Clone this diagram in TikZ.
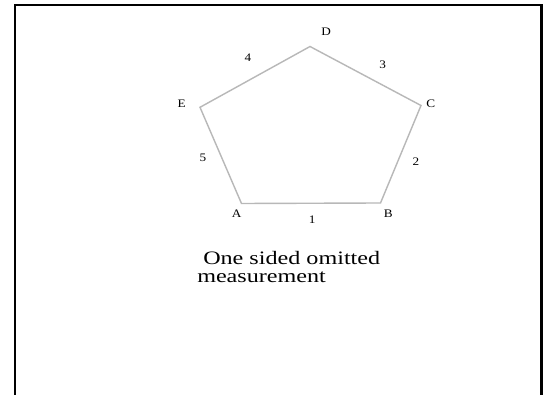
\documentclass[tikz,border=0pt]{standalone}
\usepackage{fontspec}
\setmainfont{Liberation Serif}
\begin{document}
\begin{tikzpicture}[x=1pt,y=-1pt,
  side/.style={draw=black!28,line width=1.4pt,line join=miter},
  vlabel/.style={font=\fontsize{11.5}{13}\selectfont,xscale=1.15,inner sep=0pt,text=black},
  caption/.style={font=\fontsize{19}{22}\selectfont,xscale=1.27,inner sep=0pt,anchor=base west,text=black},
  frame/.style={draw=black,line width=2.2pt}]
\useasboundingbox (0,0) rectangle (547,395);
\fill[white] (0,0) rectangle (547,395);
% frame
\coordinate (f1) at (15,396);
\coordinate (f2) at (15,5);
\coordinate (f3) at (541.5,5);
\coordinate (f4) at (541.5,396);
\draw[frame] (f1) -- (f2) -- (f3) -- (f4);
% vertices
\coordinate (A) at (241.5,203.5);
\coordinate (B) at (380.5,203);
\coordinate (C) at (421,105.5);
\coordinate (D) at (310,46.5);
\coordinate (E) at (200,107.3);
\draw[side] (A) -- (B) -- (C) -- (D) -- (E) -- cycle;
% vertex labels
\node[vlabel] (lA) at (236.7,213.7) {A};
\node[vlabel] (lB) at (388.3,213.7) {B};
\node[vlabel] (lC) at (430.7,103.5) {C};
\node[vlabel] (lD) at (326.2,32) {D};
\node[vlabel] (lE) at (181.7,103.5) {E};
% side labels
\node[vlabel] (s1) at (312.3,220) {1};
\node[vlabel] (s2) at (416,162) {2};
\node[vlabel] (s3) at (382.7,65) {3};
\node[vlabel] (s4) at (248,57.5) {4};
\node[vlabel] (s5) at (203,158) {5};
% caption
\node[caption] (cap1) at (203,264.3) {One sided omitted};
\node[caption] (cap2) at (197,282.7) {measurement};
\end{tikzpicture}
\end{document}
